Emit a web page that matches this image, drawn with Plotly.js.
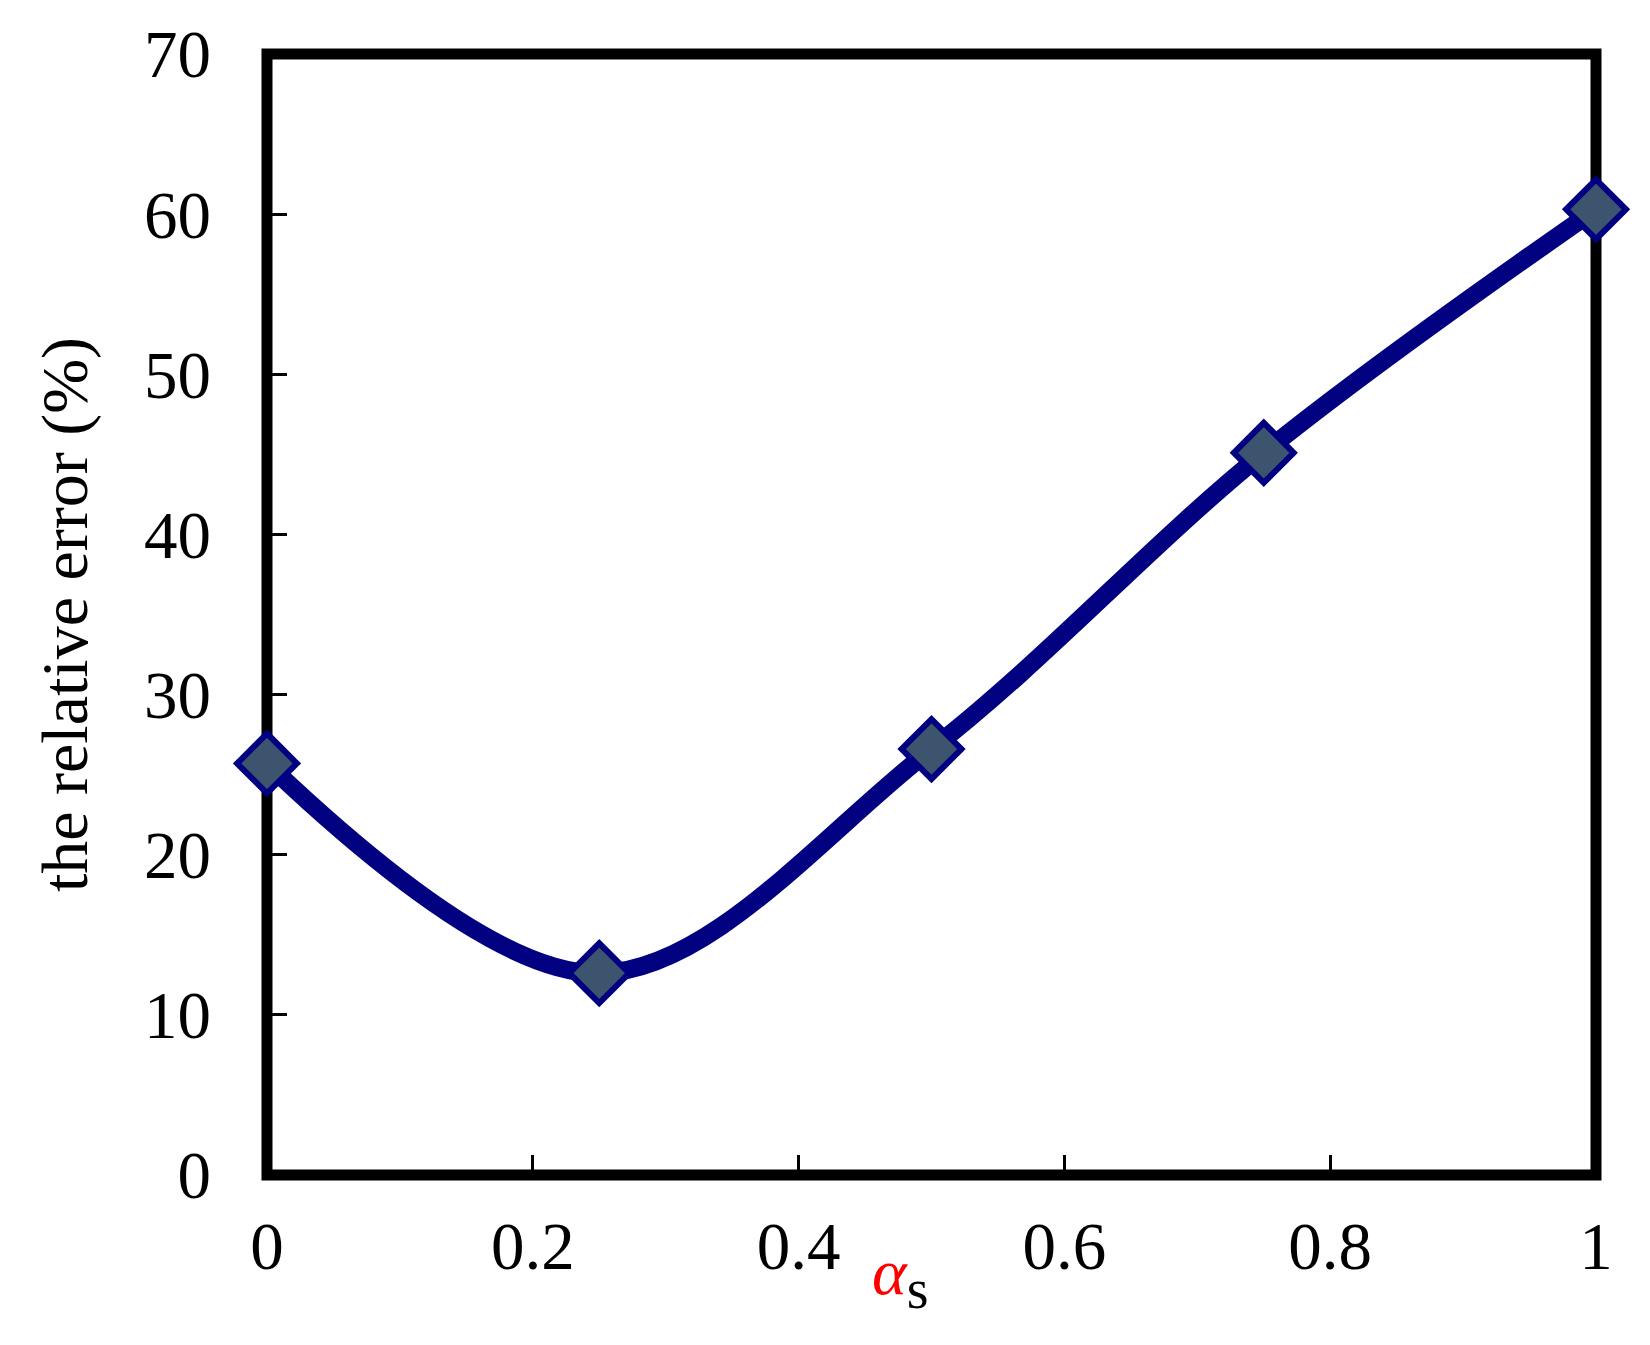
<!DOCTYPE html>
<html>
<head>
<meta charset="utf-8">
<script src="https://cdn.plot.ly/plotly-3.0.1.min.js"></script>
<style>html,body{margin:0;padding:0;background:#fff;}#chart{width:1650px;height:1345px;}</style>
</head>
<body>
<div id="chart"></div>
<script>
// data
var alphaS = [0, 0.25, 0.5, 0.75, 1];
var relativeError = [25.7, 12.6, 26.6, 45.1, 60.3];
var xTickVals = [0, 0.2, 0.4, 0.6, 0.8, 1];
var xTickText = ['0', '0.2', '0.4', '0.6', '0.8', '1'];
var yTickVals = [0, 10, 20, 30, 40, 50, 60, 70];
var xRange = [0, 1];
var yRange = [0, 70];

var serif = '"Liberation Serif", "Times New Roman", Times, serif';

var trace = {
  x: alphaS,
  y: relativeError,
  type: 'scatter',
  mode: 'lines+markers',
  line: {shape: 'spline', smoothing: 1, color: '#000080', width: 18},
  marker: {symbol: 'diamond', size: 46, color: '#3d546e', line: {color: '#000080', width: 6}},
  cliponaxis: false,
  showlegend: false
};

var layout = {
  width: 1650,
  height: 1345,
  paper_bgcolor: '#ffffff',
  plot_bgcolor: 'rgba(0,0,0,0)',
  margin: {l: 267, r: 54, t: 54, b: 170},
  font: {family: serif, size: 67, color: '#000'},
  showlegend: false,
  xaxis: {
    range: xRange,
    tickvals: xTickVals,
    ticktext: xTickText,
    ticks: 'inside',
    ticklen: 20,
    tickwidth: 3,
    tickcolor: '#000',
    ticklabelstandoff: 26,
    showline: false,
    showgrid: false,
    zeroline: false,
    tickfont: {family: serif, size: 67, color: '#000'}
  },
  yaxis: {
    range: yRange,
    tickvals: yTickVals,
    ticks: 'inside',
    ticklen: 20,
    tickwidth: 3,
    tickcolor: '#000',
    ticklabelstandoff: 55,
    showline: false,
    showgrid: false,
    zeroline: false,
    tickfont: {family: serif, size: 67, color: '#000'},
    title: {text: 'the relative error (%)', font: {family: serif, size: 66, color: '#000'}, standoff: 34}
  },
  shapes: [{
    type: 'rect', xref: 'paper', yref: 'paper',
    x0: 0, x1: 1, y0: 0, y1: 1,
    line: {color: '#000', width: 11},
    fillcolor: 'rgba(0,0,0,0)',
    layer: 'below'
  }],
  annotations: [{
    xref: 'paper', yref: 'paper',
    x: 0.476, y: -0.052,
    xanchor: 'center', yanchor: 'top',
    showarrow: false,
    text: '<span style="color:#ff0000;font-style:italic">α</span><sub><span style="font-size:56px">s</span></sub>',
    font: {family: serif, size: 66, color: '#000'}
  }]
};

Plotly.newPlot('chart', [trace], layout, {displayModeBar: false, staticPlot: true});
</script>
</body>
</html>
